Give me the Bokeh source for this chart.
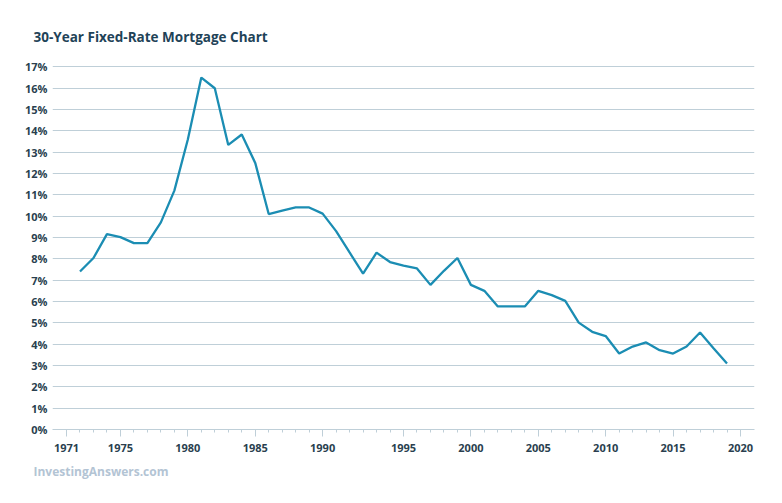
from bokeh.plotting import figure
from bokeh.models import Range1d, FixedTicker, Title
from bokeh.embed import file_html
from bokeh.resources import INLINE

# slot positions along the x axis (one slot per observation; axis has an extra slot 1990-1995)
slots = list(range(1, 50))
rates = [7.41, 8.04, 9.16, 9.02, 8.74, 8.74, 9.71, 11.2, 13.6, 16.5,
         16.0, 13.34, 13.83, 12.5, 10.1, 10.26, 10.41, 10.41, 10.12, 9.3,
         8.3, 7.31, 8.29, 7.85, 7.68, 7.55, 6.78, 7.44, 8.04, 6.78,
         6.5, 5.77, 5.77, 5.77, 6.5, 6.3, 6.03, 5.01, 4.58, 4.38,
         3.56, 3.89, 4.08, 3.72, 3.56, 3.89, 4.55, 3.81, 3.09]

x_tick_slots = [0, 4, 9, 14, 19, 25, 30, 35, 40, 45, 50]
x_tick_labels = ["1971", "1975", "1980", "1985", "1990", "1995",
                 "2000", "2005", "2010", "2015", "2020"]
x_minor_slots = list(range(0, 51))
y_ticks = list(range(0, 18))
y_tick_labels = [f"{v}%" for v in y_ticks]

p = figure(width=766, height=487, output_backend="svg", toolbar_location=None,
           x_range=Range1d(-1.04, 51.04), y_range=Range1d(0, 17.3),
           min_border_left=52, min_border_right=12, min_border_top=60,
           min_border_bottom=58)

p.line(slots, rates, line_color="#1b8db3", line_width=2.3)

p.title.text = "30-Year Fixed-Rate Mortgage Chart"
p.title.text_font = "Open Sans"
p.title.text_font_style = "bold"
p.title.text_font_size = "13.5px"
p.title.text_color = "#1f4358"
p.title.align = "left"
p.title.offset = -19
p.title.standoff = 30

wm = Title(text="InvestingAnswers.com", text_font="Open Sans", text_font_style="bold",
           text_font_size="12px", text_color="#b3c4d4", align="left", offset=-19,
           standoff=13)
p.add_layout(wm, "below")

p.outline_line_color = None
p.background_fill_color = "white"
p.border_fill_color = "white"

# grid
p.xgrid.grid_line_color = None
p.ygrid.ticker = FixedTicker(ticks=y_ticks)
p.ygrid.grid_line_color = "#bfcfd8"
p.ygrid.grid_line_width = 1

# y axis
p.yaxis.ticker = FixedTicker(ticks=y_ticks)
p.yaxis.major_label_overrides = {v: lab for v, lab in zip(y_ticks, y_tick_labels)}
p.yaxis.axis_line_color = None
p.yaxis.major_tick_line_color = None
p.yaxis.minor_tick_line_color = None
p.yaxis.major_tick_out = 0
p.yaxis.minor_tick_out = 0
p.yaxis.major_label_standoff = 5
p.yaxis.major_label_text_font = "Open Sans"
p.yaxis.major_label_text_font_size = "11px"
p.yaxis.major_label_text_font_style = "bold"
p.yaxis.major_label_text_color = "#2a3f4f"

# x axis
p.xaxis.ticker = FixedTicker(ticks=x_tick_slots, minor_ticks=x_minor_slots)
p.xaxis.major_label_overrides = {v: lab for v, lab in zip(x_tick_slots, x_tick_labels)}
p.xaxis.axis_line_color = "#bfcfd8"
p.xaxis.major_tick_line_color = "#bfcfd8"
p.xaxis.minor_tick_line_color = "#bfcfd8"
p.xaxis.major_tick_in = 0
p.xaxis.major_tick_out = 7
p.xaxis.minor_tick_in = 0
p.xaxis.minor_tick_out = 3
p.xaxis.major_label_standoff = 7
p.xaxis.major_label_text_font = "Open Sans"
p.xaxis.major_label_text_font_size = "11px"
p.xaxis.major_label_text_font_style = "bold"
p.xaxis.major_label_text_color = "#2a3f4f"

open("out.html", "w").write(file_html(p, INLINE))
